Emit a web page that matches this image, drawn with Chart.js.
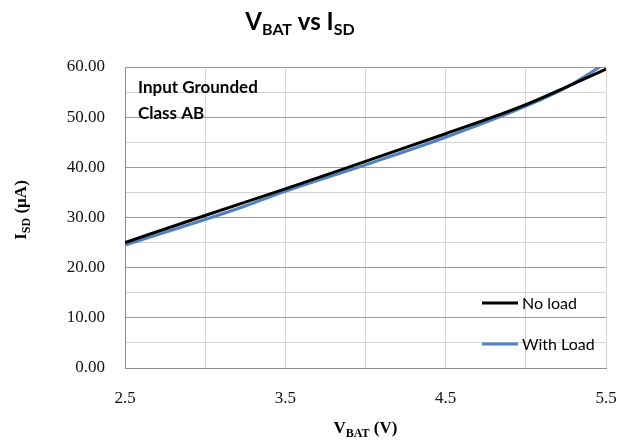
<!DOCTYPE html>
<html>
<head>
<meta charset="utf-8">
<title>VBAT vs ISD</title>
<script src="https://cdn.jsdelivr.net/npm/chart.js@4/dist/chart.umd.min.js"></script>
<style>
    html, body { margin: 0; padding: 0; background: #fff; }
    #wrap { width: 619px; height: 442px; position: relative; }
</style>
</head>
<body>
<div id="wrap"><canvas id="isdChart"></canvas></div>
<script>
// Battery voltage (V) vs shutdown current (uA)
const vbatNoLoad = [2.5, 3.0, 3.5, 4.0, 4.5, 5.0, 5.5];
const isdNoLoad = [25.0, 30.4, 35.7, 41.2, 46.7, 52.5, 59.6];

const vbatWithLoad = [2.5, 3.0, 3.25, 3.5, 4.0, 4.5, 5.0, 5.25, 5.5];
const isdWithLoad = [24.5, 29.6, 32.3, 35.2, 40.5, 46.0, 52.2, 55.9, 60.8];

const xLabelTicks = [2.5, 3.5, 4.5, 5.5];
const yLabelTicks = [0, 10, 20, 30, 40, 50, 60];

const seriesNames = ['No load', 'With Load'];
const seriesColors = ['#000000', '#4f81bd'];

function toPoints(xs, ys) {
    return xs.map((x, i) => ({ x: x, y: ys[i] }));
}

// Draw text made of [text, isSubscript] parts, centred on x
function drawSubText(ctx, parts, x, y, size, family, weight) {
    const subSize = Math.round(size * 0.68);
    let total = 0;
    parts.forEach(p => {
        ctx.font = weight + ' ' + (p[1] ? subSize : size) + 'px ' + family;
        total += ctx.measureText(p[0]).width;
    });
    let cx = x - total / 2;
    parts.forEach(p => {
        ctx.font = weight + ' ' + (p[1] ? subSize : size) + 'px ' + family;
        ctx.fillText(p[0], cx, p[1] ? y + size * 0.22 : y);
        cx += ctx.measureText(p[0]).width;
    });
}

const decorations = {
    id: 'decorations',
    afterDraw(chart) {
        const ctx = chart.ctx;
        const area = chart.chartArea;
        ctx.save();
        ctx.fillStyle = '#000';
        ctx.textBaseline = 'alphabetic';
        ctx.textAlign = 'left';

        // chart title
        drawSubText(ctx, [['V', false], ['BAT', true], [' vs I', false], ['SD', true]],
            300, 30, 24, 'Lato, "Open Sans", sans-serif', 'bold');

        // x axis title
        drawSubText(ctx, [['V', false], ['BAT', true], [' (V)', false]],
            (area.left + area.right) / 2, 433, 17, '"Liberation Serif", serif', 'bold');

        // y axis title, rotated
        ctx.save();
        ctx.translate(26, 210);
        ctx.rotate(-Math.PI / 2);
        drawSubText(ctx, [['I', false], ['SD', true], [' (\u00b5A)', false]],
            0, 0, 17, '"Liberation Serif", serif', 'bold');
        ctx.restore();

        // note inside the plot
        ctx.font = 'bold 17px Lato, "Open Sans", sans-serif';
        ctx.fillText('Input Grounded', 138, 93);
        ctx.fillText('Class AB', 138, 119);

        // legend
        const legendY = [303, 344];
        ctx.font = '16px Lato, "Open Sans", sans-serif';
        ctx.textBaseline = 'middle';
        chart.data.datasets.forEach((ds, i) => {
            ctx.strokeStyle = ds.borderColor;
            ctx.lineWidth = 3;
            ctx.beginPath();
            ctx.moveTo(482, legendY[i]);
            ctx.lineTo(518, legendY[i]);
            ctx.stroke();
            ctx.fillStyle = '#000';
            ctx.fillText(ds.label, 522, legendY[i] + 1);
        });
        ctx.restore();
    }
};

new Chart(document.getElementById('isdChart'), {
    type: 'line',
    data: {
        datasets: [
            {
                label: seriesNames[0],
                data: toPoints(vbatNoLoad, isdNoLoad),
                borderColor: seriesColors[0],
                backgroundColor: seriesColors[0],
                borderWidth: 3,
                pointRadius: 0,
                cubicInterpolationMode: 'monotone'
            },
            {
                label: seriesNames[1],
                data: toPoints(vbatWithLoad, isdWithLoad),
                borderColor: seriesColors[1],
                backgroundColor: seriesColors[1],
                borderWidth: 3,
                pointRadius: 0,
                cubicInterpolationMode: 'monotone'
            }
        ]
    },
    options: {
        responsive: true,
        maintainAspectRatio: false,
        animation: false,
        layout: { padding: { left: 0, right: 13, top: 67, bottom: 0 } },
        plugins: {
            legend: { display: false },
            tooltip: { enabled: false }
        },
        scales: {
            x: {
                type: 'linear',
                min: 2.5,
                max: 5.5,
                afterFit: scale => {
                    scale.height = 74;
                    scale.paddingLeft = 0;
                    scale.paddingRight = 0;
                },
                ticks: {
                    stepSize: 0.5,
                    autoSkip: false,
                    maxRotation: 0,
                    padding: 20,
                    color: '#111',
                    font: { family: '"Liberation Serif", serif', size: 17 },
                    callback: v => xLabelTicks.some(t => Math.abs(t - v) < 1e-6) ? v.toFixed(1) : ''
                },
                grid: { color: '#d4d4d4', lineWidth: 1, drawTicks: false },
                border: { color: '#8c8c8c', width: 1 }
            },
            y: {
                min: 0,
                max: 60,
                afterFit: scale => {
                    scale.width = 125;
                    scale.paddingTop = 0;
                    scale.paddingBottom = 0;
                },
                ticks: {
                    stepSize: 5,
                    autoSkip: false,
                    padding: 20,
                    color: '#111',
                    font: { family: '"Liberation Serif", serif', size: 17 },
                    callback: v => yLabelTicks.includes(v) ? v.toFixed(2) : ''
                },
                grid: {
                    drawTicks: false,
                    lineWidth: 1,
                    color: c => (c.tick && c.tick.value % 10 === 0) ? '#9a9a9a' : '#d4d4d4'
                },
                border: { color: '#8c8c8c', width: 1 }
            }
        }
    },
    plugins: [decorations]
});
</script>
</body>
</html>
